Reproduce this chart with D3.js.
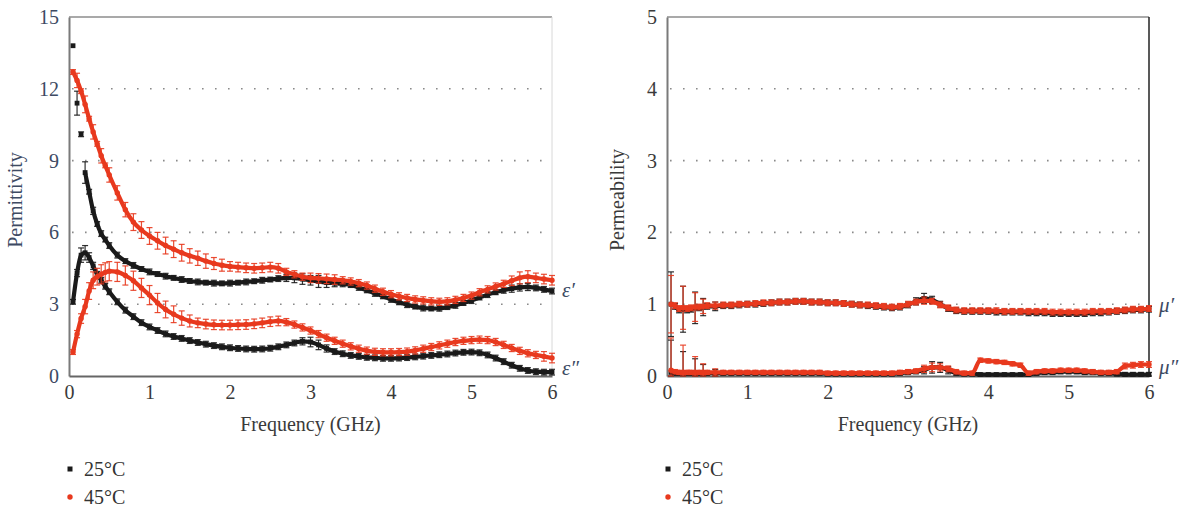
<!DOCTYPE html>
<html><head><meta charset="utf-8">
<script src="https://cdn.jsdelivr.net/npm/d3@7"></script>
<style>
body{margin:0;background:#fff;}
text{font-family:"Liberation Serif","DejaVu Serif",serif;}
</style></head>
<body><svg id="c" width="1188" height="516"></svg>
<script>
const freq = [0.05,0.1,0.15,0.2,0.25,0.3,0.35,0.4,0.45,0.5,0.6,0.7,0.8,0.9,1.0,1.1,1.2,1.3,1.4,1.5,1.6,1.7,1.8,1.9,2.0,2.1,2.2,2.3,2.4,2.5,2.6,2.7,2.8,2.9,3.0,3.1,3.2,3.3,3.4,3.5,3.6,3.7,3.8,3.9,4.0,4.1,4.2,4.3,4.4,4.5,4.6,4.7,4.8,4.9,5.0,5.1,5.2,5.3,5.4,5.5,5.6,5.7,5.8,5.9,6.0];

// Permittivity, real part
const epsReal25 = [13.8,11.4,10.1,8.5,7.7,6.9,6.35,5.95,5.7,5.45,5.05,4.8,4.62,4.47,4.35,4.26,4.17,4.1,4.03,3.97,3.93,3.9,3.88,3.87,3.88,3.9,3.93,3.96,4.0,4.03,4.07,4.1,4.1,4.05,4.0,3.95,3.9,3.88,3.85,3.8,3.7,3.58,3.45,3.33,3.2,3.08,2.98,2.9,2.84,2.82,2.83,2.88,2.95,3.05,3.15,3.28,3.4,3.5,3.58,3.65,3.7,3.72,3.68,3.62,3.55];
const epsReal45 = [12.7,12.35,11.9,11.35,10.75,10.2,9.7,9.2,8.8,8.4,7.65,6.95,6.43,6.1,5.85,5.65,5.45,5.3,5.15,5.02,4.92,4.8,4.7,4.63,4.58,4.55,4.52,4.5,4.52,4.55,4.5,4.35,4.25,4.15,4.1,4.08,4.06,4.03,4.0,3.95,3.88,3.78,3.65,3.52,3.42,3.33,3.26,3.2,3.16,3.12,3.1,3.12,3.18,3.26,3.36,3.5,3.62,3.74,3.85,3.98,4.1,4.15,4.1,4.05,4.0];
// Permittivity, imaginary part
const epsImag25 = [3.1,4.3,5.05,5.15,4.95,4.6,4.25,4.0,3.75,3.52,3.1,2.75,2.48,2.23,2.05,1.9,1.76,1.65,1.57,1.48,1.4,1.33,1.27,1.22,1.18,1.15,1.13,1.12,1.13,1.16,1.22,1.3,1.38,1.45,1.42,1.3,1.15,1.02,0.93,0.86,0.82,0.78,0.76,0.74,0.74,0.75,0.77,0.8,0.83,0.86,0.89,0.92,0.96,0.99,1.0,0.97,0.88,0.75,0.6,0.45,0.32,0.23,0.18,0.16,0.16];
const epsImag45 = [1.0,1.75,2.4,2.9,3.55,4.0,4.15,4.25,4.33,4.38,4.35,4.2,3.98,3.68,3.38,3.05,2.78,2.58,2.42,2.3,2.22,2.17,2.14,2.13,2.13,2.14,2.15,2.18,2.22,2.27,2.3,2.25,2.15,2.03,1.9,1.75,1.6,1.47,1.35,1.24,1.14,1.06,1.01,0.99,0.99,1.0,1.02,1.07,1.14,1.21,1.28,1.35,1.42,1.47,1.5,1.52,1.5,1.42,1.3,1.17,1.05,0.95,0.88,0.82,0.75];
// Error half-widths
const errEpsReal25 = [0,0.5,0.1,0.45,0.1,0.15,0.1,0.12,0.1,0.12,0.12,0.1,0.12,0.1,0.12,0.1,0.12,0.1,0.12,0.1,0.12,0.1,0.12,0.1,0.12,0.1,0.12,0.1,0.12,0.1,0.12,0.15,0.2,0.22,0.2,0.25,0.2,0.15,0.12,0.1,0.12,0.1,0.12,0.1,0.12,0.1,0.12,0.1,0.12,0.1,0.12,0.1,0.12,0.1,0.12,0.1,0.12,0.1,0.12,0.15,0.15,0.15,0.12,0.12,0.12];
const errEpsReal45 = [0.1,0.3,0.1,0.35,0.1,0.3,0.1,0.3,0.1,0.3,0.3,0.3,0.35,0.35,0.35,0.35,0.35,0.35,0.35,0.3,0.3,0.3,0.25,0.25,0.2,0.2,0.2,0.2,0.2,0.2,0.2,0.15,0.15,0.15,0.2,0.2,0.2,0.2,0.15,0.15,0.15,0.15,0.15,0.15,0.15,0.15,0.15,0.15,0.15,0.15,0.15,0.15,0.15,0.15,0.15,0.15,0.15,0.15,0.15,0.2,0.25,0.25,0.2,0.2,0.2];
const errEpsImag25 = [0.1,0.15,0.3,0.3,0.2,0.15,0.12,0.12,0.12,0.12,0.12,0.12,0.12,0.12,0.12,0.12,0.12,0.12,0.12,0.12,0.12,0.12,0.12,0.12,0.12,0.12,0.12,0.12,0.12,0.12,0.12,0.12,0.12,0.15,0.2,0.2,0.15,0.12,0.12,0.12,0.12,0.12,0.12,0.12,0.12,0.12,0.12,0.12,0.12,0.12,0.12,0.12,0.12,0.12,0.12,0.12,0.12,0.12,0.12,0.12,0.12,0.12,0.12,0.12,0.12];
const errEpsImag45 = [0.1,0.15,0.2,0.3,0.35,0.35,0.35,0.4,0.4,0.4,0.4,0.4,0.4,0.4,0.4,0.4,0.35,0.35,0.3,0.25,0.2,0.2,0.2,0.2,0.2,0.2,0.2,0.2,0.2,0.2,0.2,0.15,0.15,0.15,0.15,0.15,0.15,0.15,0.15,0.15,0.15,0.15,0.15,0.15,0.15,0.15,0.15,0.15,0.15,0.15,0.15,0.15,0.15,0.15,0.15,0.15,0.15,0.15,0.15,0.15,0.15,0.15,0.15,0.2,0.2];

// Permeability, real part
const muReal25 = [1.0,0.97,0.92,0.93,0.92,0.93,0.95,0.95,0.96,0.97,0.97,0.98,0.98,0.99,1.0,1.0,1.01,1.02,1.03,1.03,1.04,1.04,1.03,1.03,1.02,1.02,1.01,1.0,0.99,0.98,0.97,0.96,0.95,0.96,0.99,1.04,1.08,1.06,1.0,0.94,0.91,0.9,0.9,0.9,0.9,0.89,0.89,0.89,0.89,0.88,0.88,0.88,0.87,0.87,0.87,0.87,0.87,0.88,0.88,0.89,0.9,0.91,0.92,0.92,0.93];
const muReal45 = [1.0,0.98,0.94,0.95,0.94,0.95,0.96,0.96,0.97,0.98,0.98,0.99,0.99,1.0,1.0,1.01,1.02,1.02,1.03,1.03,1.04,1.04,1.03,1.03,1.02,1.02,1.01,1.0,0.99,0.99,0.98,0.97,0.96,0.97,1.0,1.03,1.05,1.04,0.99,0.95,0.92,0.91,0.91,0.91,0.91,0.91,0.9,0.9,0.9,0.9,0.9,0.9,0.89,0.89,0.89,0.89,0.89,0.9,0.9,0.9,0.91,0.92,0.93,0.93,0.94];
// Permeability, imaginary part
const muImag25 = [0.05,0.04,0.04,0.04,0.04,0.04,0.04,0.04,0.04,0.04,0.04,0.04,0.04,0.04,0.04,0.04,0.04,0.04,0.04,0.04,0.04,0.04,0.04,0.04,0.03,0.03,0.03,0.03,0.03,0.03,0.03,0.03,0.03,0.04,0.05,0.06,0.08,0.12,0.12,0.08,0.04,0.03,0.03,0.02,0.02,0.02,0.02,0.02,0.02,0.02,0.04,0.05,0.05,0.06,0.06,0.06,0.05,0.05,0.04,0.04,0.03,0.02,0.02,0.02,0.02];
const muImag45 = [0.08,0.06,0.05,0.05,0.05,0.05,0.05,0.05,0.05,0.05,0.05,0.05,0.05,0.05,0.05,0.05,0.05,0.05,0.05,0.05,0.05,0.05,0.05,0.05,0.04,0.04,0.04,0.04,0.04,0.04,0.04,0.04,0.04,0.05,0.06,0.07,0.1,0.12,0.12,0.1,0.06,0.04,0.04,0.22,0.21,0.2,0.19,0.17,0.15,0.04,0.06,0.07,0.07,0.08,0.08,0.08,0.07,0.06,0.05,0.05,0.06,0.14,0.15,0.16,0.16];
const errMuReal25 = [0.45,0.04,0.04,0.32,0.04,0.04,0.22,0.04,0.12,0.04,0.06,0.04,0.04,0.04,0.04,0.04,0.04,0.04,0.04,0.04,0.04,0.04,0.04,0.04,0.04,0.04,0.04,0.04,0.04,0.04,0.04,0.04,0.04,0.04,0.04,0.05,0.07,0.05,0.04,0.04,0.04,0.04,0.04,0.04,0.04,0.04,0.04,0.04,0.04,0.04,0.04,0.04,0.04,0.04,0.04,0.04,0.04,0.04,0.04,0.04,0.04,0.04,0.04,0.04,0.04];
const errMuReal45 = [0.4,0.04,0.04,0.3,0.04,0.04,0.2,0.04,0.1,0.04,0.05,0.04,0.04,0.04,0.04,0.04,0.04,0.04,0.04,0.04,0.04,0.04,0.04,0.04,0.04,0.04,0.04,0.04,0.04,0.04,0.04,0.04,0.04,0.04,0.04,0.04,0.05,0.04,0.04,0.04,0.04,0.04,0.04,0.04,0.04,0.04,0.04,0.04,0.04,0.04,0.04,0.04,0.04,0.04,0.04,0.04,0.04,0.04,0.04,0.04,0.04,0.04,0.04,0.04,0.04];
const errMuImag25 = [0.45,0.03,0.03,0.3,0.03,0.03,0.2,0.03,0.12,0.03,0.05,0.03,0.03,0.03,0.03,0.03,0.03,0.03,0.03,0.03,0.03,0.03,0.03,0.03,0.03,0.03,0.03,0.03,0.03,0.03,0.03,0.03,0.03,0.03,0.03,0.03,0.05,0.08,0.07,0.05,0.03,0.03,0.03,0.02,0.02,0.02,0.02,0.02,0.02,0.02,0.03,0.03,0.03,0.03,0.03,0.03,0.03,0.03,0.03,0.03,0.03,0.03,0.03,0.03,0.03];
const errMuImag45 = [0.45,0.03,0.03,0.38,0.03,0.03,0.22,0.03,0.12,0.03,0.05,0.03,0.03,0.03,0.03,0.03,0.03,0.03,0.03,0.03,0.03,0.03,0.03,0.03,0.03,0.03,0.03,0.03,0.03,0.03,0.03,0.03,0.03,0.03,0.03,0.03,0.05,0.06,0.05,0.04,0.03,0.03,0.03,0.03,0.03,0.03,0.03,0.03,0.03,0.03,0.03,0.03,0.03,0.03,0.03,0.03,0.03,0.03,0.03,0.03,0.03,0.04,0.04,0.04,0.04];

const xTicks = [0,1,2,3,4,5,6];
const permTicks = [0,3,6,9,12,15];
const mubTicks = [0,1,2,3,4,5];
const legendLabels = ["25°C","45°C"];
const colors = ["#1a1a1a","#e8391e"];

const svg = d3.select("#c");
const FONT = "Liberation Serif, DejaVu Serif, serif";
const tickColL = "#3d4a63";
const tickCol = "#3a3a3a";

function panel(opt){
  const x = d3.scaleLinear().domain([0,6]).range([opt.x0, opt.x1]);
  const y = d3.scaleLinear().domain([0,opt.ymax]).range([376,17]);
  const g = svg.append("g");
  // grid
  opt.ticks.filter(t=>t>0 && t<opt.ymax).forEach(t=>{
    g.append("line").attr("x1",x(0)+3).attr("x2",x(6)).attr("y1",y(t)).attr("y2",y(t))
     .attr("stroke","#8a8a8a").attr("stroke-width",1.6).attr("stroke-dasharray","1.6,11.4");
  });
  // frame
  g.append("line").attr("x1",x(0)).attr("x2",x(6)).attr("y1",y(opt.ymax)).attr("y2",y(opt.ymax)).attr("stroke","#8c8c8c").attr("stroke-width",1.5);
  g.append("line").attr("x1",x(6)).attr("x2",x(6)).attr("y1",y(opt.ymax)).attr("y2",y(0)).attr("stroke",opt.rightCol).attr("stroke-width",opt.rightW);
  // y axis
  const ya = d3.axisLeft(y).tickValues(opt.ticks).tickFormat(d3.format("d")).tickSize(0).tickPadding(10);
  const yg = g.append("g").attr("transform",`translate(${x(0)},0)`).call(ya).attr("font-family",FONT).attr("font-size",20);
  yg.select(".domain").attr("stroke","#7a7a7a").attr("stroke-width",2);
  yg.selectAll("text").attr("fill",opt.tickColor);
  // x axis
  const xa = d3.axisBottom(x).tickValues(xTicks).tickFormat(d3.format("d")).tickSize(0).tickPadding(9);
  const xg = g.append("g").attr("transform",`translate(0,${y(0)})`).call(xa).attr("font-family",FONT).attr("font-size",20);
  xg.select(".domain").attr("stroke","#666").attr("stroke-width",1.8);
  xg.selectAll("text").attr("fill",tickCol);
  // titles
  g.append("text").attr("x",(x(0)+x(6))/2).attr("y",431).attr("text-anchor","middle")
    .attr("font-size",20).attr("fill","#3a3a3a").text("Frequency (GHz)");
  g.append("text").attr("transform",`translate(${opt.titleX},200) rotate(-90)`).attr("text-anchor","middle")
    .attr("font-size",20).attr("fill",opt.tickColor).text(opt.title);

  // series
  const sg = g.append("g");
  opt.series.forEach(s=>{
    const pts = freq.map((f,i)=>({f, v:s.vals[i], e:s.err[i]}));
    const col = colors[s.c];
    // error bars
    pts.forEach(p=>{
      if(p.e<=0) return;
      const yt=y(Math.min(opt.ymax,p.v+p.e)), yb=y(Math.max(0,p.v-p.e)), xx=x(p.f);
      sg.append("line").attr("x1",xx).attr("x2",xx).attr("y1",yt).attr("y2",yb).attr("stroke",col).attr("stroke-width",1.2).attr("opacity",0.9);
      sg.append("line").attr("x1",xx-3).attr("x2",xx+3).attr("y1",yt).attr("y2",yt).attr("stroke",col).attr("stroke-width",1.2).attr("opacity",0.9);
      sg.append("line").attr("x1",xx-3).attr("x2",xx+3).attr("y1",yb).attr("y2",yb).attr("stroke",col).attr("stroke-width",1.2).attr("opacity",0.9);
    });
    // connecting band
    const startIdx = s.lineFrom||0;
    sg.append("path").datum(pts.slice(startIdx))
      .attr("d",d3.line().x(p=>x(p.f)).y(p=>y(p.v)).curve(d3.curveMonotoneX))
      .attr("fill","none").attr("stroke",col).attr("stroke-width",4.2);
    // markers
    if(s.c===0){
      sg.selectAll(null).data(pts).enter().append("rect")
        .attr("x",p=>x(p.f)-2.4).attr("y",p=>y(p.v)-2.4).attr("width",4.8).attr("height",4.8).attr("fill",col);
    } else {
      sg.selectAll(null).data(pts).enter().append("circle")
        .attr("cx",p=>x(p.f)).attr("cy",p=>y(p.v)).attr("r",2.7).attr("fill",col);
    }
  });
  // curve labels
  opt.labels.forEach(l=>{
    g.append("text").attr("x",x(6)+10).attr("y",y(l.v)+7).attr("font-size",21).attr("font-style","italic")
      .attr("fill",tickColL).text(l.t);
  });
  // legend
  legendLabels.forEach((lab,i)=>{
    const ly = 469 + i*28;
    if(i===0) g.append("rect").attr("x",opt.x0-1.5).attr("y",ly-2.5).attr("width",5).attr("height",5).attr("fill",colors[0]);
    else g.append("circle").attr("cx",opt.x0+1).attr("cy",ly).attr("r",2.7).attr("fill",colors[1]);
    g.append("text").attr("x",opt.x0+15).attr("y",ly+7).attr("font-size",20).attr("fill","#333").text(lab);
  });
}

panel({x0:69,x1:552,ymax:15,ticks:permTicks,title:"Permittivity",titleX:22,tickColor:tickColL,
  rightCol:"#d8d8d8",rightW:1,
  series:[
    {vals:epsReal25,err:errEpsReal25,c:0,lineFrom:3},
    {vals:epsImag25,err:errEpsImag25,c:0},
    {vals:epsReal45,err:errEpsReal45,c:1},
    {vals:epsImag45,err:errEpsImag45,c:1}
  ],
  labels:[{t:"ε′",v:3.6},{t:"ε″",v:0.35}]});

panel({x0:667,x1:1149,ymax:5,ticks:mubTicks,title:"Permeability",titleX:624,tickColor:tickCol,
  rightCol:"#222",rightW:1.5,
  series:[
    {vals:muReal25,err:errMuReal25,c:0},
    {vals:muImag25,err:errMuImag25,c:0},
    {vals:muReal45,err:errMuReal45,c:1},
    {vals:muImag45,err:errMuImag45,c:1}
  ],
  labels:[{t:"μ′",v:0.99},{t:"μ″",v:0.12}]});
</script>
</body></html>
